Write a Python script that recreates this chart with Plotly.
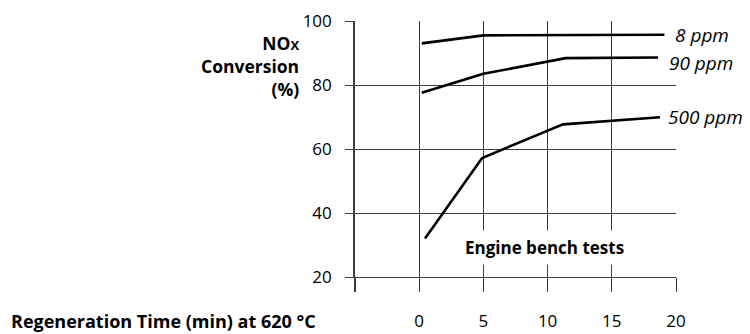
import plotly.graph_objects as go

# Regeneration time (min) and NOx conversion (%) for each sulfur level
time_8ppm = [0.2, 5.0, 19.1]
conv_8ppm = [93.0, 95.5, 95.7]

time_90ppm = [0.2, 5.0, 11.4, 18.6]
conv_90ppm = [77.6, 83.5, 88.4, 88.6]

time_500ppm = [0.45, 4.9, 11.2, 18.75]
conv_500ppm = [32.0, 57.2, 67.7, 69.9]

series_labels = ["8 ppm", "90 ppm", "500 ppm"]
x_tick_vals = [0, 5, 10, 15, 20]
x_tick_text = ["0", "5", "10", "15", "20"]
y_tick_vals = [20, 40, 60, 80, 100]

FONT = "Open Sans"
GRID = "#3c3c3c"

fig = go.Figure()
for xs, ys in [(time_8ppm, conv_8ppm), (time_90ppm, conv_90ppm), (time_500ppm, conv_500ppm)]:
    fig.add_trace(go.Scatter(x=xs, y=ys, mode="lines",
                             line=dict(color="black", width=2.6),
                             showlegend=False, hoverinfo="skip"))

# Series labels sit just right of each curve's end
label_pos = [(19.75, 95.5), (19.3, 86.8), (19.2, 69.9)]
for text, (lx, ly) in zip(series_labels, label_pos):
    fig.add_annotation(x=lx, y=ly, xref="x", yref="y", text=f"<i>{text}</i>",
                       showarrow=False, xanchor="left", yanchor="middle",
                       font=dict(family=FONT, size=19, color="black"))

fig.add_annotation(x=9.75, y=29.3, xref="x", yref="y",
                   text="<b>Engine bench tests</b>", showarrow=False,
                   bgcolor="white", borderpad=5,
                   font=dict(family=FONT, size=17, color="black"))

W, H = 750, 334
L, R, T, B = 355, 74, 20.5, 57.3
pw = W - L - R
ph = H - T - B

def px_x(p):
    return (p - L) / pw

def px_y(p):
    return (H - B - p) / ph

fig.add_annotation(x=px_x(301), y=px_y(66), xref="paper", yref="paper",
                   text=("<b>NO<span style='font-size:13px'>X</span></b><br>"
                         "<b>Conversion</b><br><b>(%)</b>"),
                   showarrow=False, xanchor="right", yanchor="middle", align="right",
                   font=dict(family=FONT, size=17.5, color="black"))

fig.add_annotation(x=px_x(9), y=px_y(321), xref="paper", yref="paper",
                   text="<b>Regeneration Time (min) at 620 °C</b>",
                   showarrow=False, xanchor="left", yanchor="middle",
                   font=dict(family=FONT, size=18, color="black"))

fig.update_layout(
    width=W, height=H,
    margin=dict(l=L, r=R, t=T, b=B, pad=0, autoexpand=False),
    paper_bgcolor="white", plot_bgcolor="white",
    font=dict(family=FONT, color="black"),
    xaxis=dict(range=[-5, 20], tickvals=x_tick_vals, ticktext=x_tick_text,
               showgrid=True, gridcolor=GRID, gridwidth=1.2,
               ticks="outside", ticklen=14, tickwidth=1.2, tickcolor=GRID,
               ticklabelstandoff=14, tickfont=dict(family=FONT, size=17),
               minor=dict(tickvals=[-5], ticks="outside", ticklen=14,
                          tickwidth=1.6, tickcolor=GRID, showgrid=False),
               showline=True, linecolor=GRID, linewidth=1.2, automargin=False,
               zeroline=False, fixedrange=True),
    yaxis=dict(range=[20, 100], tickvals=y_tick_vals,
               showgrid=True, gridcolor=GRID, gridwidth=1.2,
               ticks="outside", ticklen=8, tickwidth=1.2, tickcolor=GRID,
               ticklabelstandoff=10, tickfont=dict(family=FONT, size=17),
               showline=True, linecolor=GRID, linewidth=1.6, automargin=False,
               zeroline=False, fixedrange=True),
)

fig.write_html("out.html", config={"displayModeBar": False})
